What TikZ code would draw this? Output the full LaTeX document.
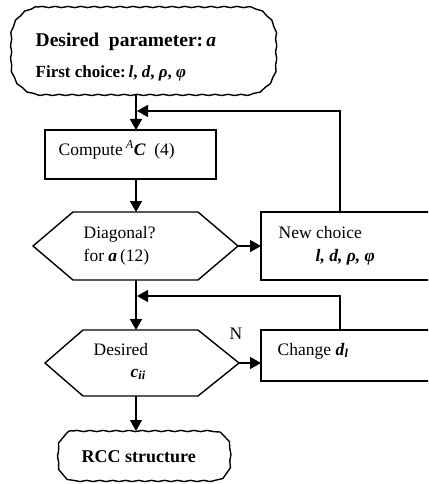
\documentclass[tikz,border=0pt]{standalone}
\usepackage{fontspec}
\setmainfont{Liberation Serif}
\usetikzlibrary{arrows.meta,decorations.pathmorphing,calc}
\newcommand\drawterm[3]{%
\draw[wavy] ($(#1.north west)+(#2,0)$) -- ($(#1.north east)+(-#2,0)$)
 .. controls ($(#1.north east)+(-#2+#3,0)$) and ($(#1.north east)+(0,#2-#3)$) .. ($(#1.north east)+(0,#2)$)
 -- ($(#1.south east)+(0,-#2)$)
 .. controls ($(#1.south east)+(0,-#2+#3)$) and ($(#1.south east)+(-#2+#3,0)$) .. ($(#1.south east)+(-#2,0)$)
 -- ($(#1.south west)+(#2,0)$)
 .. controls ($(#1.south west)+(#2-#3,0)$) and ($(#1.south west)+(0,-#2+#3)$) .. ($(#1.south west)+(0,-#2)$)
 -- ($(#1.north west)+(0,#2)$)
 .. controls ($(#1.north west)+(0,#2-#3)$) and ($(#1.north west)+(#2-#3,0)$) .. ($(#1.north west)+(#2,0)$) -- cycle;}
\begin{document}
\begin{tikzpicture}[x=1pt,y=-1pt,line width=1.4pt,
  arr/.style={-{Triangle[length=11pt,width=12pt]}},
  shp/.style={inner sep=0pt,outer sep=0pt},
  wavy/.style={decorate,decoration={snake,amplitude=0.6pt,segment length=13pt}},
  rect/.style={shp,draw},
  txt/.style={inner sep=0pt,anchor=base west,font=\fontsize{17.5}{20}\selectfont},
  btxt/.style={txt,font=\fontsize{#1}{20}\selectfont\bfseries}
]
\useasboundingbox (0,0) rectangle (428,484);
\clip (0,0) rectangle (428,484);
\fill[white] (0,0) rectangle (428,484);
\coordinate (spine) at (136,0);
\coordinate (fb) at (340,0);
\coordinate (j1) at (137,111);
\coordinate (j2) at (137,296);

% shapes
\node[shp,minimum width=265pt,minimum height=88pt] (top) at (140.5,51) {};
\drawterm{top}{30}{16.6}
\node[rect,minimum width=171pt,minimum height=49pt] (comp) at (130.5,154.5) {};
\node[shp,minimum width=205pt,minimum height=68pt] (d1) at (135.5,246) {};
\draw (d1.west) -- ([xshift=40pt]d1.north west) -- ([xshift=-40pt]d1.north east) -- (d1.east)
  -- ([xshift=-40pt]d1.south east) -- ([xshift=40pt]d1.south west) -- cycle;
\node[rect,minimum width=219pt,minimum height=68pt] (nc) at (370.5,246) {};
\node[shp,minimum width=194pt,minimum height=66pt] (d2) at (142,363) {};
\draw (d2.west) -- ([xshift=38pt]d2.north west) -- ([xshift=-41pt]d2.north east) -- (d2.east)
  -- ([xshift=-41pt]d2.south east) -- ([xshift=38pt]d2.south west) -- cycle;
\node[rect,minimum width=219pt,minimum height=51pt] (ch) at (370.5,355.5) {};
\node[shp,minimum width=172pt,minimum height=50pt] (rcc) at (141,456) {};
\drawterm{rcc}{18}{10}

% texts
\node[btxt=19.5] (t1) at (35,47) {Desired\ \ parameter:\,\textit{a}};
\node[btxt=17] (t2) at (35,78) {First choice:\,\textit{l}, \textit{d}, \textit{ρ}, \textit{φ}};
\node[txt] (t3) at (58,155) {Compute\,\textsuperscript{\textit{A}}\textbf{\textit{C}}\ \ (4)};
\node[txt] (t4) at (83,238) {Diagonal?};
\node[txt] (t5) at (83,261) {for \textbf{\textit{a}}\,(12)};
\node[txt] (t6) at (278,238) {New choice};
\node[txt] (t7) at (315,261) {\textbf{\textit{l, d, ρ, φ}}};
\node[txt] (t8) at (229,339) {N};
\node[txt] (t9) at (93,355) {Desired};
\node[txt] (t10) at (130,377) {\textbf{\textit{c}}\textsubscript{\textbf{\textit{ii}}}};
\node[txt] (t11) at (277,355) {Change \textbf{\textit{d}}\textsubscript{\textbf{\textit{l}}}};
\node[btxt=18] (t12) at (81,462) {RCC structure};

% connectors
\draw[arr] (top.south -| spine) -- (comp.north -| spine);
\draw[arr] (comp.south -| spine) -- (d1.north -| spine);
\draw[arr] (d1.east) -- (nc.west);
\draw[arr] (d1.south -| spine) -- (d2.north -| spine);
\draw[arr] (d2.east) -- (d2.east -| ch.west);
\draw[arr] (d2.south -| spine) -- (rcc.north -| spine);
\draw[arr] (nc.north -| fb) |- (j1);
\draw[arr] (ch.north -| fb) |- (j2);
\end{tikzpicture}
\end{document}
